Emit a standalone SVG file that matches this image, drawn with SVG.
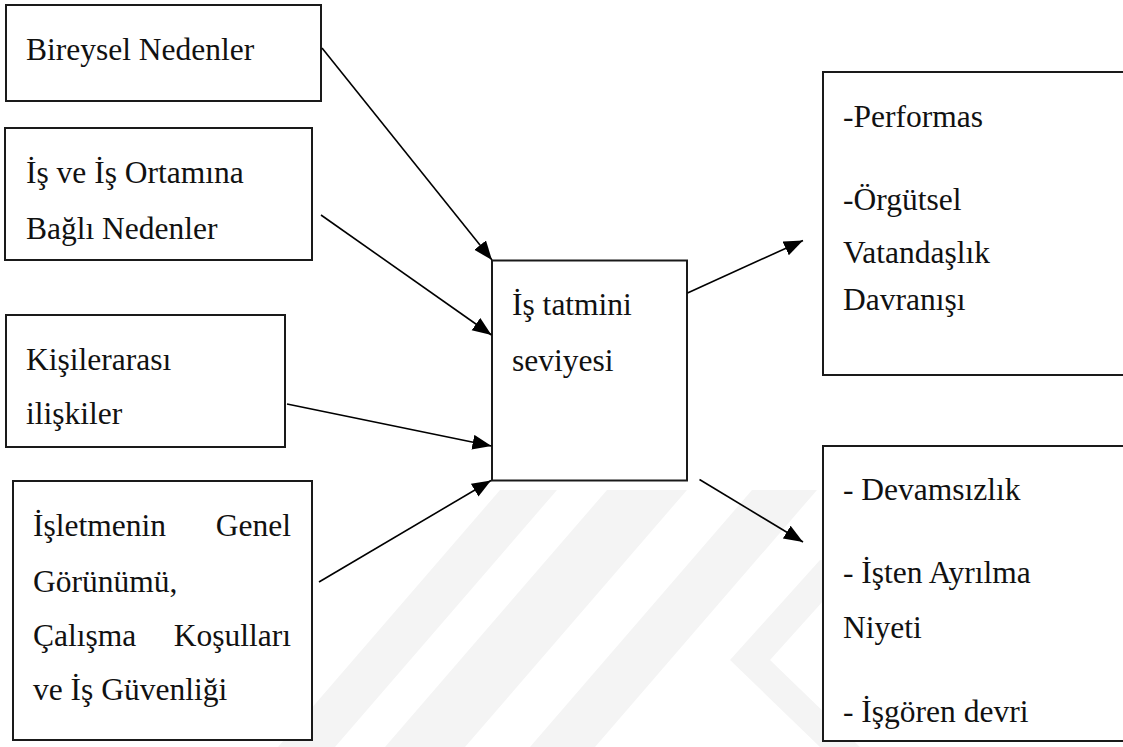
<svg xmlns="http://www.w3.org/2000/svg" width="1123" height="747" viewBox="0 0 1123 747">
  <style>
    .box { fill: #ffffff; stroke: #1a1a1a; stroke-width: 2; }
    .t { font-family: "Liberation Serif", "Times New Roman", serif; font-size: 31.5px; fill: #111111; }
    .e { text-anchor: end; }
    .conn line { stroke: #000000; stroke-width: 1.6; marker-end: url(#arr); }
    .wm { fill: #f4f4f4; }
  </style>
  <defs>
    <marker id="arr" markerUnits="userSpaceOnUse" markerWidth="20" markerHeight="16" refX="19" refY="7.5" orient="auto">
      <path d="M0,0 L19,7.5 L0,15 z" fill="#000000"/>
    </marker>
  </defs>
  <rect width="1123" height="747" fill="#ffffff"/>
  <g id="watermark">
    <polygon class="wm" points="500,490 557,490 335,747 278,747"/>
    <polygon class="wm" points="607,490 687,490 465,747 385,747"/>
    <polygon class="wm" points="752,490 817,490 595,747 530,747"/>
    <polygon class="wm" points="820,560 860,560 770,660 860,747 820,747 730,660"/>
  </g>
  <g id="n1">
    <rect class="box" x="6" y="5" width="315" height="96"/>
    <text class="t" x="26" y="60">Bireysel Nedenler</text>
  </g>
  <g id="n2">
    <rect class="box" x="5" y="128" width="307" height="132"/>
    <text class="t" x="26" y="183">İş ve İş Ortamına</text>
    <text class="t" x="26" y="239">Bağlı Nedenler</text>
  </g>
  <g id="n3">
    <rect class="box" x="6" y="315" width="279" height="132"/>
    <text class="t" x="26" y="370">Kişilerarası</text>
    <text class="t" x="26" y="424">ilişkiler</text>
  </g>
  <g id="n4">
    <rect class="box" x="13" y="481" width="299" height="259"/>
    <text class="t" x="33" y="536">İşletmenin</text>
    <text class="t e" x="291" y="536">Genel</text>
    <text class="t" x="33" y="592">Görünümü,</text>
    <text class="t" x="33" y="646">Çalışma</text>
    <text class="t e" x="291" y="646">Koşulları</text>
    <text class="t" x="33" y="700">ve İş Güvenliği</text>
  </g>
  <g id="center">
    <rect class="box" x="492" y="260.5" width="195" height="220"/>
    <text class="t" x="512" y="315">İş tatmini</text>
    <text class="t" x="512" y="371">seviyesi</text>
  </g>
  <g id="out1">
    <rect class="box" x="823" y="72" width="330" height="303"/>
    <text class="t" x="843" y="127">-Performas</text>
    <text class="t" x="843" y="210">-Örgütsel</text>
    <text class="t" x="843" y="263">Vatandaşlık</text>
    <text class="t" x="843" y="310">Davranışı</text>
  </g>
  <g id="out2">
    <rect class="box" x="823" y="446" width="330" height="295"/>
    <text class="t" x="843" y="500">- Devamsızlık</text>
    <text class="t" x="843" y="583">- İşten Ayrılma</text>
    <text class="t" x="843" y="638">Niyeti</text>
    <text class="t" x="843" y="722">- İşgören devri</text>
  </g>
  <g id="connectors" class="conn">
    <line x1="322" y1="48" x2="492" y2="260"/>
    <line x1="321" y1="215" x2="491.5" y2="335"/>
    <line x1="287" y1="404" x2="491.5" y2="446"/>
    <line x1="319" y1="582" x2="491" y2="480.5"/>
    <line x1="687.5" y1="293" x2="803" y2="240.5"/>
    <line x1="699.5" y1="479.5" x2="803" y2="542"/>
  </g>
</svg>
